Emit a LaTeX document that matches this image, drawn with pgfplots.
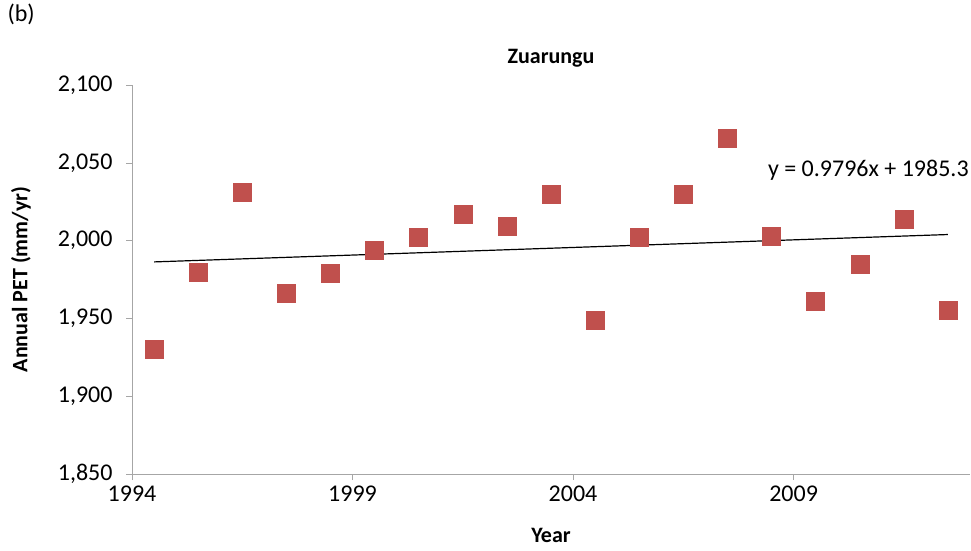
\documentclass[border=0pt]{standalone}
\usepackage{pgfplots}
\pgfplotsset{compat=1.18}
\usepackage{fontspec}
\setmainfont{Carlito}
\definecolor{mk}{HTML}{C0504D}
\begin{document}
\begin{tikzpicture}
\path[use as bounding box] (0,0) rectangle (971pt,551pt);
\node[anchor=north west,font=\fontsize{24}{26}\selectfont] at (4pt,551pt) {(b)};
\begin{axis}[at={(132pt,77pt)},anchor=south west,
 width=838pt,height=389pt,scale only axis,
 xmin=1994,xmax=2013,ymin=1850,ymax=2100,
 axis x line*=bottom, axis y line*=left,
 axis line style={gray!70},
 xtick={1994,1999,2004,2009},
 ytick={1850,1900,...,2100},
 tick style={gray!70}, tick align=outside, major tick length=6pt,
 /pgf/number format/assume math mode=true,
 xticklabel style={/pgf/number format/1000 sep=, yshift=-2pt},
 yticklabel style={/pgf/number format/1000 sep={,}, xshift=-10pt},
 ticklabel style={font=\fontsize{24}{26}\selectfont},
 title={\textbf{Zuarungu}}, title style={font=\fontsize{22}{24}\selectfont, yshift=8pt},
 xlabel={\textbf{Year}}, ylabel={\textbf{Annual PET (mm/yr)}},
 label style={font=\fontsize{22}{24}\selectfont},
 xlabel style={yshift=-20pt}, ylabel style={yshift=20pt},
 clip=false]
\addplot[only marks, mark=square*, mark size=9pt, mk, mark options={draw=mk,fill=mk}] coordinates {
(1994.5,1930)(1995.5,1980)(1996.5,2031)(1997.5,1966)(1998.5,1979)(1999.5,1994)
(2000.5,2002)(2001.5,2017)(2002.5,2009)(2003.5,2030)(2004.5,1949)(2005.5,2002)
(2006.5,2030)(2007.5,2066)(2008.5,2003)(2009.5,1961)(2010.5,1985)(2011.5,2014)(2012.5,1955)};
\addplot[black, line width=1.2pt] coordinates {(1994.5,1986.3)(2012.5,2003.9)};
\node[anchor=east,font=\fontsize{24}{26}\selectfont] at (axis cs:2013.05,2045) {y = 0.9796x + 1985.3};
\end{axis}
\end{tikzpicture}
\end{document}
